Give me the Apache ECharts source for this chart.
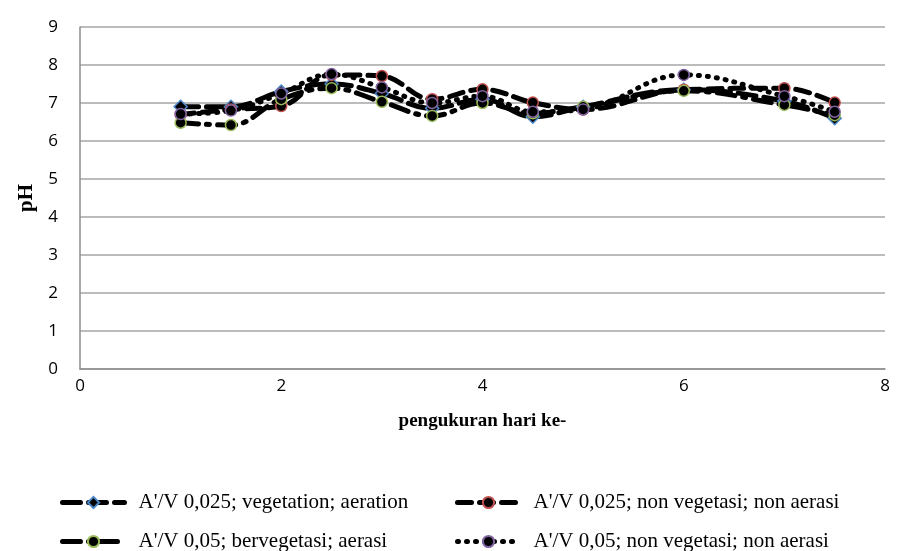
<!DOCTYPE html>
<html>
<head>
<meta charset="utf-8">
<script src="https://cdn.jsdelivr.net/npm/echarts@6/dist/echarts.min.js"></script>
<style>
	html, body { margin: 0; padding: 0; background: #fff; }
	#chart { width: 899px; height: 551px; }
</style>
</head>
<body>
<div id="chart"></div>
<script>
	// hari pengukuran
	var days = [1, 1.5, 2, 2.5, 3, 3.5, 4, 4.5, 5, 6, 7, 7.5];
	var names = [
		"A'/V 0,025; vegetation; aeration",
		"A'/V 0,025; non vegetasi; non aerasi",
		"A'/V 0,05; bervegetasi; aerasi",
		"A'/V 0,05; non vegetasi; non aerasi"
	];
	var ph1 = [6.9, 6.9, 7.3, 7.5, 7.25, 6.86, 7.1, 6.64, 6.9, 7.35, 7.05, 6.6];
	var ph2 = [6.7, 6.83, 6.92, 7.74, 7.71, 7.1, 7.36, 7.01, 6.83, 7.35, 7.39, 7.01];
	var ph3 = [6.48, 6.42, 7.1, 7.39, 7.03, 6.66, 7.0, 6.73, 6.9, 7.32, 6.95, 6.68];
	var ph4 = [6.71, 6.8, 7.25, 7.76, 7.41, 7.0, 7.18, 6.77, 6.83, 7.74, 7.18, 6.77];

	function pairs(vals) {
		var out = [];
		for (var i = 0; i < days.length; i++) {
			out.push([days[i], vals[i]]);
		}
		return out;
	}

	function makeSeries(name, vals, symbol, size, border, dash) {
		return {
			name: name,
			type: 'line',
			smooth: 0.4,
			data: pairs(vals),
			symbol: symbol,
			symbolSize: size,
			itemStyle: { color: '#000', borderColor: border, borderWidth: 1.5 },
			lineStyle: { color: '#000', width: 5, type: dash, cap: 'round' }
		};
	}

	// satu legend per item, dua kolom
	function makeLegend(name, left, top) {
		return {
			data: [name],
			left: left,
			top: top,
			padding: 0,
			itemWidth: 62,
			itemHeight: 14,
			lineStyle: { width: 5 },
			textStyle: { fontFamily: 'Liberation Serif', fontSize: 21, color: '#000', padding: [0, 0, 0, 9] }
		};
	}

	var chart = echarts.init(document.getElementById('chart'));
	var option = {
		animation: false,
		grid: { left: 80, right: 14, top: 27, bottom: 182, containLabel: false },
		xAxis: {
			type: 'value',
			min: 0,
			max: 8,
			interval: 2,
			name: 'pengukuran hari ke-',
			nameLocation: 'middle',
			nameGap: 43,
			nameTextStyle: { fontFamily: 'Liberation Serif', fontWeight: 'bold', fontSize: 19, color: '#000' },
			axisLine: { lineStyle: { color: '#8c8c8c', width: 1.5 } },
			axisTick: { show: false },
			axisLabel: { fontFamily: 'Open Sans', fontSize: 17, color: '#000', margin: 9 },
			splitLine: { show: false }
		},
		yAxis: {
			type: 'value',
			min: 0,
			max: 9,
			interval: 1,
			name: 'pH',
			nameLocation: 'middle',
			nameGap: 31,
			nameTextStyle: { fontFamily: 'Liberation Serif', fontWeight: 'bold', fontSize: 21, color: '#000' },
			axisLine: { show: true, lineStyle: { color: '#8c8c8c', width: 1.5 } },
			axisTick: { show: false },
			axisLabel: { fontFamily: 'Open Sans', fontSize: 17, color: '#000', margin: 22 },
			splitLine: { lineStyle: { color: '#a6a6a6', width: 1.5 } }
		},
		legend: [
			makeLegend(names[0], 60, 492),
			makeLegend(names[1], 455, 492),
			makeLegend(names[2], 60, 531),
			makeLegend(names[3], 455, 531)
		],
		series: [
			makeSeries(names[0], ph1, 'diamond', 13, '#4a86c8', [18, 8]),
			makeSeries(names[1], ph2, 'circle', 11, '#c0504d', [14, 8]),
			makeSeries(names[2], ph3, 'circle', 11, '#9bbb59', [18, 8, 3, 8]),
			makeSeries(names[3], ph4, 'circle', 11, '#8064a2', [1, 8])
		]
	};
	chart.setOption(option);
</script>
</body>
</html>
